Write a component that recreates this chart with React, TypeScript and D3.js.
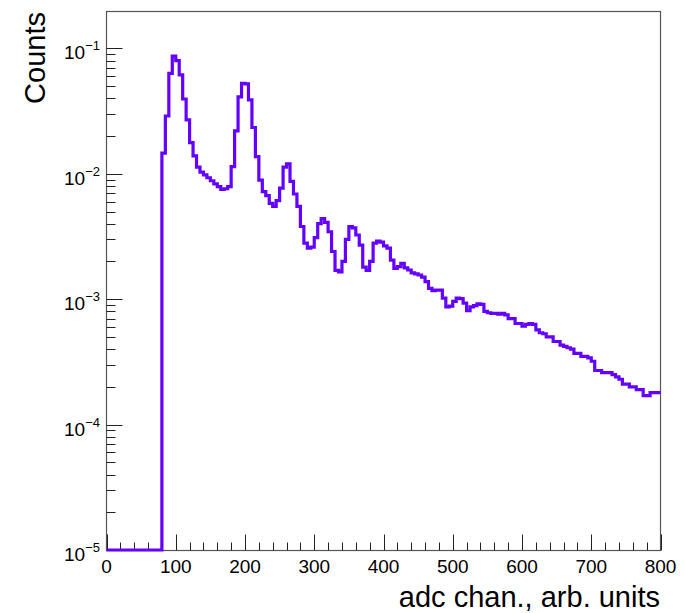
import React from "react";
import * as d3 from "d3";

// histogram: 160 bins of width 5 over [0, 800]
const binWidth = 5;
const binStart = 0;
const counts: number[] = [
  0, 0, 0, 0, 0, 0, 0, 0, 0, 0, 0, 0, 0, 0, 0, 0,
  0.0146, 0.0289, 0.0633, 0.087, 0.0798, 0.0614, 0.0395, 0.0269, 0.0177, 0.0139,
  0.0113, 0.0103, 0.0098, 0.0093, 0.0088, 0.0083, 0.0079, 0.0075, 0.0076, 0.0079,
  0.0114, 0.022, 0.041, 0.0527, 0.0522, 0.0388, 0.0234, 0.0137, 0.0089, 0.0072,
  0.0067, 0.0058, 0.0055, 0.0061, 0.0077, 0.0113, 0.012, 0.0087, 0.0069, 0.0055,
  0.0038, 0.0028, 0.00255, 0.0026, 0.0031, 0.004, 0.0044, 0.0041, 0.00345, 0.0024,
  0.0017, 0.00165, 0.002, 0.003, 0.0038, 0.0037, 0.00325, 0.0027, 0.0018, 0.0017,
  0.002, 0.0028, 0.0029, 0.00285, 0.00266, 0.00255, 0.00205, 0.00176, 0.00182, 0.00193,
  0.00178, 0.00171, 0.00162, 0.00159, 0.00156, 0.0015, 0.00138, 0.00122, 0.00117, 0.00118,
  0.00118, 0.00102, 0.00087, 0.00088, 0.00096, 0.00102, 0.00101, 0.00093, 0.00081, 0.00087,
  0.00089, 0.00092, 0.00091, 0.0008, 0.00078, 0.00077, 0.00077, 0.00076, 0.00077, 0.00075,
  0.0007, 0.0007, 0.00064, 0.00064, 0.00061, 0.00063, 0.00064, 0.00063, 0.00057, 0.00054,
  0.00053, 0.0005, 0.0005, 0.00046, 0.00046, 0.00043, 0.00042, 0.00041, 0.0004, 0.00037,
  0.00037, 0.00035, 0.00035, 0.00034, 0.00032, 0.00027, 0.00027, 0.00026, 0.00026, 0.00026,
  0.00025, 0.00024, 0.00023, 0.00021, 0.00021, 0.0002, 0.0002, 0.00019, 0.00019, 0.00017,
  0.00017, 0.00018, 0.00018, 0.00018,
];

const xMajorTicks = [0, 100, 200, 300, 400, 500, 600, 700, 800];
const yDecadeExponents = [-5, -4, -3, -2, -1];
const xTitle = "adc chan., arb. units";
const yTitle = "Counts";

const W = 685;
const H = 613;
const frame = { left: 106.5, right: 660.5, top: 11.5, bottom: 550.5 };
const yMin = 1e-5;
const yMax = 0.1987;
const lineColor = "#6400ff";
const font = "'Liberation Sans', Arial, Helvetica, sans-serif";

export default function App() {
  const x = d3.scaleLinear().domain([0, 800]).range([frame.left, frame.right]);
  const y = d3.scaleLog().domain([yMin, yMax]).range([frame.bottom - 0.5, frame.top - 0.5]);

  // step outline
  const pts: [number, number][] = [];
  counts.forEach((c, i) => {
    const lo = binStart + i * binWidth;
    const hi = lo + binWidth;
    const v = Math.max(c, yMin);
    pts.push([x(lo), y(v)]);
    pts.push([x(hi), y(v)]);
  });
  const path = d3.line()(pts) || "";

  const xMinor = d3.range(0, 801, 20).filter((v) => v % 100 !== 0);
  const yMinor: number[] = [];
  yDecadeExponents.forEach((e) => {
    for (let m = 2; m <= 9; m++) {
      const v = m * Math.pow(10, e);
      if (v <= yMax) yMinor.push(v);
    }
  });

  const tickColor = "#222";

  return (
    <svg
      width={W}
      height={H}
      style={{ position: "absolute", left: 0, top: 0, background: "#fff" }}
      fontFamily={font}
    >
      <rect x={0} y={0} width={W} height={H} fill="#fff" />
      <rect
        x={frame.left}
        y={frame.top}
        width={frame.right - frame.left}
        height={frame.bottom - frame.top}
        fill="none"
        stroke="#555"
        strokeWidth={1.2}
      />
      {xMajorTicks.map((t) => (
        <line
          key={"xM" + t}
          x1={Math.round(x(t)) + 0.5}
          x2={Math.round(x(t)) + 0.5}
          y1={frame.bottom}
          y2={frame.bottom - 16}
          stroke={tickColor}
          strokeWidth={1}
        />
      ))}
      {xMinor.map((t) => (
        <line
          key={"xm" + t}
          x1={Math.round(x(t)) + 0.5}
          x2={Math.round(x(t)) + 0.5}
          y1={frame.bottom}
          y2={frame.bottom - 8}
          stroke={tickColor}
          strokeWidth={1}
        />
      ))}
      {xMajorTicks.map((t) => (
        <text key={"xl" + t} x={x(t)} y={573} textAnchor="middle" fontSize={19} fill="#000">
          {t}
        </text>
      ))}
      {yDecadeExponents.map((e) => {
        const yy = Math.round(y(Math.pow(10, e))) + 0.5;
        return (
          <line
            key={"yM" + e}
            x1={frame.left}
            x2={frame.left + 16}
            y1={yy}
            y2={yy}
            stroke={tickColor}
            strokeWidth={1}
          />
        );
      })}
      {yMinor.map((v, i) => {
        const yy = Math.round(y(v)) + 0.5;
        return (
          <line
            key={"ym" + i}
            x1={frame.left}
            x2={frame.left + 9}
            y1={yy}
            y2={yy}
            stroke={tickColor}
            strokeWidth={1}
          />
        );
      })}
      {yDecadeExponents.map((e) => (
        <text key={"yl" + e} x={100} y={y(Math.pow(10, e)) + 11} textAnchor="end" fontSize={19} fill="#000">
          <tspan>10</tspan>
          <tspan dy={-9} fontSize={13}>
            {"\u2212" + Math.abs(e)}
          </tspan>
        </text>
      ))}
      <path d={path} fill="none" stroke={lineColor} strokeWidth={3.2} strokeLinejoin="miter" />
      <text x={660} y={607} textAnchor="end" fontSize={29} fill="#000">
        {xTitle}
      </text>
      <text transform={`translate(45, 12) rotate(-90)`} textAnchor="end" fontSize={29} fill="#000">
        {yTitle}
      </text>
    </svg>
  );
}
